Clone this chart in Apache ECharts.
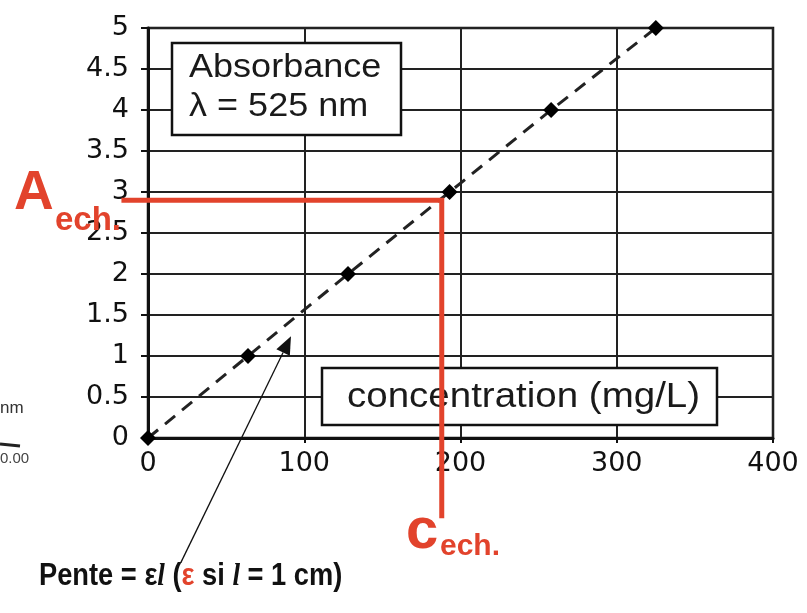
<!DOCTYPE html>
<html><head><meta charset="utf-8">
<script src="https://cdn.jsdelivr.net/npm/echarts@6/dist/echarts.min.js"></script>
<style>html,body{margin:0;padding:0;background:#fff}#c{width:807px;height:613px}</style>
</head><body><div id="c"></div>
<script>
// Data
const concentrations = [0, 64, 128, 193, 258, 325];   // mg/L
const absorbances    = [0, 1, 2, 3, 4, 5];
const sampleA = 2.9;     // A_ech.
const sampleC = 188;     // c_ech. (mg/L)
const redLineLeftX = -17;    // start of the horizontal red guide (data units)
const redLineBottomY = -0.98; // end of the vertical red guide (data units)
const slopeArrowTip = [91.5, 1.24];
const slopeArrowTail = [21, -1.52];
const xTicks = [0, 100, 200, 300, 400];
const yTicks = [0, 0.5, 1, 1.5, 2, 2.5, 3, 3.5, 4, 4.5, 5];

const pts = concentrations.map((c, i) => [c, absorbances[i]]);
const RED = '#e2432c';
const FONT = '"DejaVu Sans", sans-serif';
const AFONT = '"Liberation Sans", Arial, sans-serif';

const chart = echarts.init(document.getElementById('c'));
chart.setOption({
  animation: false,
  backgroundColor: '#fff',
  grid: { left: 148, top: 28, right: 34, bottom: 175, show: true, borderColor: '#111', borderWidth: 2.5, backgroundColor: 'transparent' },
  xAxis: {
    type: 'value', min: xTicks[0], max: xTicks[xTicks.length - 1], interval: 100,
    axisLine: { show: true, lineStyle: { color: '#111', width: 3 } },
    axisTick: { show: true, length: 5, lineStyle: { color: '#111', width: 2 } },
    axisLabel: { fontFamily: FONT, fontSize: 27, color: '#111', margin: 12 },
    splitLine: { show: true, lineStyle: { color: '#222', width: 2 } }
  },
  yAxis: {
    type: 'value', min: yTicks[0], max: yTicks[yTicks.length - 1], interval: 0.5,
    axisLine: { show: true, lineStyle: { color: '#111', width: 3 } },
    axisTick: { show: true, length: 7, lineStyle: { color: '#111', width: 2 } },
    axisLabel: { fontFamily: FONT, fontSize: 27, color: '#111', margin: 19 },
    splitLine: { show: true, lineStyle: { color: '#222', width: 2 } }
  },
  series: [
    {
      type: 'line', data: pts, symbol: 'diamond', symbolSize: 16, clip: false,
      itemStyle: { color: '#000' },
      lineStyle: { color: '#222', width: 3, type: [13, 9] },
      z: 5
    },
    {
      type: 'custom', data: [[sampleC, sampleA]], encode: { x: 0, y: 1 }, clip: false, z: 20,
      renderItem: function (params, api) {
        const p0 = api.coord([redLineLeftX, sampleA]);
        const p1 = api.coord([sampleC, sampleA]);
        const p2 = api.coord([sampleC, redLineBottomY]);
        return { type: 'polyline', shape: { points: [p0, p1, p2] },
          style: { stroke: RED, lineWidth: 5, fill: null, lineJoin: 'miter' } };
      }
    },
    {
      type: 'custom', data: [slopeArrowTip], encode: { x: 0, y: 1 }, clip: false, z: 20,
      renderItem: function (params, api) {
        const a = api.coord(slopeArrowTail);
        const b = api.coord(slopeArrowTip);
        const dx = b[0] - a[0], dy = b[1] - a[1];
        const L = Math.hypot(dx, dy), ux = dx / L, uy = dy / L;
        const hl = 18, hw = 7.5;
        const base = [b[0] - ux * hl, b[1] - uy * hl];
        return { type: 'group', children: [
          { type: 'line', shape: { x1: a[0], y1: a[1], x2: base[0], y2: base[1] }, style: { stroke: '#111', lineWidth: 1.3 } },
          { type: 'polygon', shape: { points: [b, [base[0] - uy * hw, base[1] + ux * hw], [base[0] + uy * hw, base[1] - ux * hw]] }, style: { fill: '#111' } }
        ] };
      }
    }
  ],
  graphic: [
    { type: 'rect', shape: { x: 172, y: 43, width: 229, height: 92 }, style: { fill: '#fff', stroke: '#111', lineWidth: 2.5 }, z: 10 },
    { type: 'text', x: 189, y: 48, scaleX: 1.06, z: 11, style: { text: 'Absorbance\nλ = 525 nm', font: '34px ' + AFONT, fill: '#1a1a1a', lineHeight: 39 } },
    { type: 'rect', shape: { x: 322, y: 368, width: 395, height: 57 }, style: { fill: '#fff', stroke: '#111', lineWidth: 2.5 }, z: 10 },
    { type: 'text', x: 347, y: 397, scaleX: 1.1, z: 11, style: { text: 'concentration (mg/L)', font: '35px ' + AFONT, fill: '#1a1a1a', verticalAlign: 'middle' } },
    { type: 'text', x: 14, y: 166, z: 25, style: { text: 'A', font: 'bold 55px ' + AFONT, fill: RED } },
    { type: 'text', x: 55, y: 204, z: 25, style: { text: 'ech.', font: 'bold 33px ' + AFONT, fill: RED } },
    { type: 'text', x: 406, y: 503, z: 25, style: { text: 'c', font: 'bold 58px ' + AFONT, fill: RED } },
    { type: 'text', x: 440, y: 532, z: 25, style: { text: 'ech.', font: 'bold 30px ' + AFONT, fill: RED } },
    { type: 'text', x: 39, y: 561, scaleX: 0.88, z: 25, style: {
      text: '{n|Pente = ε}{i|l}{n| (}{r|ε}{n| si }{i|l}{n| = 1 cm)}',
      rich: {
        n: { font: 'bold 31px "Liberation Sans", sans-serif', fill: '#111' },
        i: { font: 'bold italic 31px "Liberation Serif", serif', fill: '#111' },
        r: { font: 'bold 31px "Liberation Sans", sans-serif', fill: RED }
      }
    } },
    { type: 'text', x: 0, y: 400, z: 20, style: { text: 'nm', font: '17px "Liberation Sans Narrow", sans-serif', fill: '#333' } },
    { type: 'text', x: 0, y: 451, z: 20, style: { text: '0.00', font: '15px "Liberation Sans Narrow", sans-serif', fill: '#444' } },
    { type: 'line', shape: { x1: 0, y1: 444, x2: 20, y2: 446 }, style: { stroke: '#222', lineWidth: 3 }, z: 20 }
  ]
});
</script></body></html>
